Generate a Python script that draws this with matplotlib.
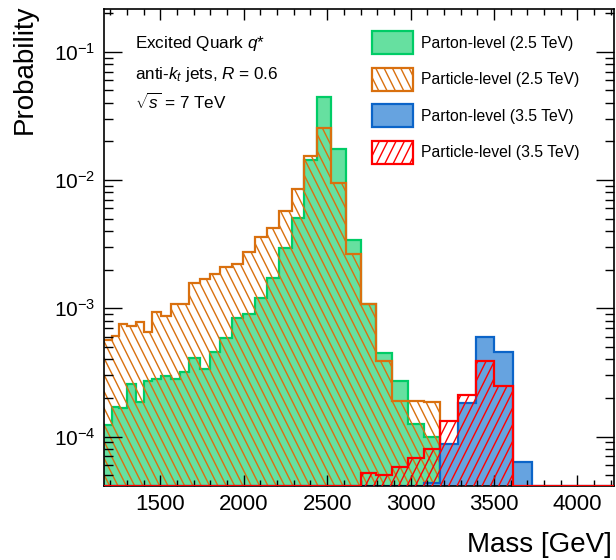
import matplotlib
matplotlib.use('Agg')
import matplotlib.pyplot as plt
import matplotlib.hatch as mhatch
import numpy as np
from matplotlib.path import Path
from matplotlib.patches import Patch
from matplotlib.ticker import MultipleLocator, LogLocator, NullFormatter

# bin edges in GeV (variable width binning), first bin runs off the left edge
edges = [1140, 1208, 1252, 1298, 1352, 1400, 1452, 1504, 1564, 1618, 1674,
         1738, 1798, 1858, 1928, 1998, 2068, 2138, 2212, 2288, 2363, 2438,
         2523, 2612, 2701, 2793, 2887, 2983, 3083, 3177, 3283, 3391, 3500,
         3613, 3727, 4240]

parton_25 = [1.22e-4, 1.70e-4, 1.68e-4, 2.56e-4, 1.87e-4, 2.73e-4, 2.83e-4,
             2.97e-4, 2.83e-4, 3.21e-4, 4.07e-4, 3.36e-4, 4.59e-4, 5.84e-4,
             8.45e-4, 9.03e-4, 1.20e-3, 1.73e-3, 2.97e-3, 5.01e-3, 1.43e-2,
             4.46e-2, 1.75e-2, 3.41e-3, 1.08e-3, 4.51e-4, 2.71e-4, 1.25e-4,
             1.00e-4]
particle_25 = [5.61e-4, 6.08e-4, 7.55e-4, 7.32e-4, 7.82e-4, 6.48e-4, 9.31e-4,
               8.71e-4, 1.07e-3, 1.07e-3, 1.58e-3, 1.69e-3, 1.86e-3, 2.09e-3,
               2.21e-3, 2.76e-3, 3.60e-3, 4.19e-3, 5.73e-3, 8.43e-3, 1.54e-2,
               2.54e-2, 9.53e-3, 2.64e-3, 1.08e-3, 3.88e-4, 1.89e-4, 1.88e-4,
               1.86e-4]
parton_35 = [0] * 28 + [4.37e-5, 8.71e-5, 1.82e-4, 5.92e-4, 4.59e-4, 6.34e-5, 0]
particle_35 = [0] * 24 + [5.17e-5, 5.02e-5, 5.82e-5, 6.78e-5, 7.96e-5, 1.32e-4,
                          2.11e-4, 3.91e-4, 2.48e-4, 0, 0]

labels = ["Parton-level (2.5 TeV)", "Particle-level (2.5 TeV)",
          "Parton-level (3.5 TeV)", "Particle-level (3.5 TeV)"]


# steeper diagonal hatching, closer to the ROOT 3354/3345 fill styles
class SteepHatch(mhatch.HatchPatternBase):
    char = '/'
    sign = 1

    def __init__(self, hatch, density):
        n = int(hatch.count(self.char) * density)
        n += n % 2
        self.offsets = [k / n for k in range(-n // 2 - 1, n + 2)] if n else []
        self.num_lines = len(self.offsets)
        self.num_vertices = 2 * self.num_lines

    def set_vertices_and_codes(self, vertices, codes):
        for i, x0 in enumerate(self.offsets):
            if self.sign > 0:
                vertices[2 * i] = (x0, 0.0)
                vertices[2 * i + 1] = (x0 + 0.5, 1.0)
            else:
                vertices[2 * i] = (x0, 1.0)
                vertices[2 * i + 1] = (x0 + 0.5, 0.0)
            codes[2 * i] = Path.MOVETO
            codes[2 * i + 1] = Path.LINETO


class SteepBack(SteepHatch):
    char = '\\'
    sign = -1


mhatch._hatch_types = [SteepHatch if h is mhatch.NorthEastHatch else
                       SteepBack if h is mhatch.SouthEastHatch else h
                       for h in mhatch._hatch_types]

plt.rcParams['font.family'] = 'Liberation Sans'
plt.rcParams['mathtext.fontset'] = 'custom'
plt.rcParams['mathtext.rm'] = 'Liberation Sans'
plt.rcParams['mathtext.it'] = 'Liberation Sans:italic'
plt.rcParams['mathtext.default'] = 'regular'
plt.rcParams['hatch.linewidth'] = 1.0

ymin, ymax = 4.14e-5, 0.215

green_fill, green_edge = '#66e0a0', '#00cc66'
orange = '#d9700f'
blue_fill, blue_edge = '#66a3e0', '#0b64c8'
red = '#ff0000'

fig = plt.figure(figsize=(6.16, 5.6), dpi=100)
ax = fig.add_axes([104 / 616, 1 - 485.7 / 560, 510 / 616, (485.7 - 9) / 560])


def hist(vals, z=1, **kw):
    v = np.clip(np.array(vals, dtype=float), ymin, None)
    ax.stairs(v, edges[:len(v) + 1], baseline=1e-7, fill=True, lw=1.6,
              zorder=z, **kw)


hist(parton_25, facecolor=green_fill, edgecolor=green_edge)
hist(particle_25, facecolor='none', edgecolor=orange, hatch='\\\\')
hist(parton_35, facecolor=blue_fill, edgecolor=blue_edge)
hist(particle_35, z=3, facecolor='none', edgecolor=red, hatch='//')

ax.set_yscale('log')
ax.set_xlim(1162, 4220)
ax.set_ylim(ymin, ymax)

ax.xaxis.set_major_locator(MultipleLocator(500))
ax.xaxis.set_minor_locator(MultipleLocator(100))
ax.yaxis.set_major_locator(LogLocator(base=10, numticks=10))
ax.yaxis.set_minor_locator(LogLocator(base=10, subs=np.arange(2, 10), numticks=20))
ax.yaxis.set_minor_formatter(NullFormatter())

ax.tick_params(which='both', direction='in', top=True, right=True, width=1.0)
ax.tick_params(axis='x', which='major', length=8, pad=6, labelsize=16)
ax.tick_params(axis='x', which='minor', length=4)
ax.tick_params(axis='y', which='major', length=13, pad=6, labelsize=15)
ax.tick_params(axis='y', which='minor', length=6.5)
for s in ax.spines.values():
    s.set_linewidth(1.2)

fig.text(25 / 616, 1 - 5 / 560, "Probability", rotation=90, ha='center',
         va='top', fontsize=20)
fig.text(612 / 616, 1 - 545 / 560, "Mass [GeV]", ha='right', va='center',
         fontsize=20)

ax.text(0.06, 0.928, "Excited Quark $\\mathit{q}$*", transform=ax.transAxes,
        fontsize=12.3, va='center')
ax.text(0.06, 0.862, "anti-$\\mathit{k}_{\\mathit{t}}$ jets, $\\mathit{R}$ = 0.6",
        transform=ax.transAxes, fontsize=12.3, va='center')
ax.text(0.06, 0.806, "$\\sqrt{\\mathit{s}}$ = 7 TeV", transform=ax.transAxes,
        fontsize=12.3, va='center')

handles = [Patch(facecolor=green_fill, edgecolor=green_edge, lw=1.6),
           Patch(facecolor='white', edgecolor=orange, hatch='\\\\', lw=1.6),
           Patch(facecolor=blue_fill, edgecolor=blue_edge, lw=1.6),
           Patch(facecolor='white', edgecolor=red, hatch='//', lw=1.6)]
fig.legend(handles, labels, loc='upper left',
           bbox_to_anchor=(372 / 616, 1 - 31 / 560), frameon=False,
           fontsize=11.3, handlelength=2.6, handleheight=1.9,
           labelspacing=0.85, handletextpad=0.5, borderpad=0, borderaxespad=0)

fig.savefig('out.png', dpi=100)
